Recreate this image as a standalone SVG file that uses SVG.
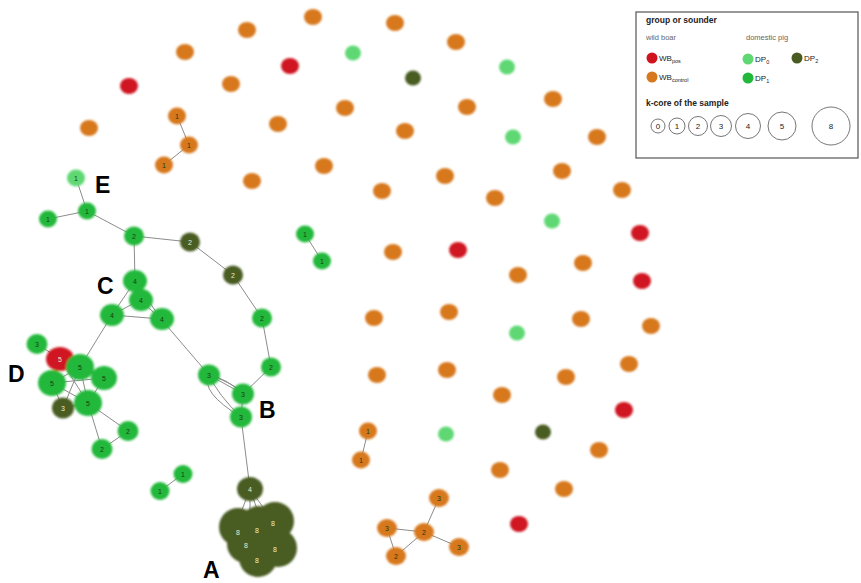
<svg xmlns="http://www.w3.org/2000/svg" width="861" height="583" viewBox="0 0 861 583">
<defs>
<filter id="soft" x="-30%" y="-30%" width="160%" height="160%"><feGaussianBlur stdDeviation="0.9"/></filter>
</defs>
<style>
.o{fill:#d7781f}.r{fill:#cf1420}.lg{fill:#5fd873}.g{fill:#22b83a}.dg{fill:#485c22}
.e{stroke:#8c8c8c;stroke-width:1;fill:none}
.t{font-family:"Liberation Sans",Arial,sans-serif;font-size:7px;text-anchor:middle;fill:#1a3a10}
.tw{font-family:"Liberation Sans",Arial,sans-serif;font-size:7px;text-anchor:middle;fill:#e8efd0}
.big{font-family:"Liberation Sans",Arial,sans-serif;font-size:23px;font-weight:bold;fill:#000}
.lt{font-family:"Liberation Sans",Arial,sans-serif;font-size:8px;fill:#222}
.lb{font-family:"Liberation Sans",Arial,sans-serif;font-size:8.5px;font-weight:bold;fill:#222}
.lgr{font-family:"Liberation Sans",Arial,sans-serif;font-size:7.5px;fill:#666}
.kc{fill:#fff;stroke:#666;stroke-width:0.9}
.kt{font-family:"Liberation Sans",Arial,sans-serif;font-size:8px;text-anchor:middle;fill:#222}
</style>
<rect width="861" height="583" fill="#fff"/>
<g id="connectors">
<path class="e" d="M177,116L189,145L164,165"/>
<path class="e" d="M368,431L361,460"/>
<path class="e" d="M439,498L424,532L387,528L396,556L424,532L459,547"/>
<path class="e" d="M76,178L87,211L48,219M87,211L134,236L190,242L233,275L262,318L271,367L243,394"/>
<path class="e" d="M134,236L135,281L140,300L112,315L161,319L140,300M135,281L112,315M135,281L161,319"/>
<path class="e" d="M112,315L80,367M161,319L209,375L243,394L241,417L250,489"/>
<path class="e" d="M209,375Q226,378 243,394M209,375Q218,395 241,417M209,375Q200,392 241,417M209,375Q236,384 243,394"/>
<path class="e" d="M305,234L322,261M160,491L183,474"/>
<path class="e" d="M37,344L60,359L80,367L104,378L88,403L52,383L60,359M80,367L52,383L63,408L88,403L80,367L63,408M60,359L88,403M52,383L104,378"/>
<path class="e" d="M88,403L128,431L102,449L88,403"/>
<path class="e" d="M250,489L240,515M250,489L250,512M250,489L258,512M250,489L265,510"/>
</g>
<g filter="url(#soft)">
<g id="n_scatter">
<ellipse class="o" cx="313" cy="17" rx="9" ry="8"/>
<ellipse class="o" cx="247" cy="30" rx="9" ry="8"/>
<ellipse class="o" cx="185" cy="52" rx="9" ry="8"/>
<ellipse class="r" cx="290" cy="66" rx="9" ry="8"/>
<ellipse class="r" cx="129" cy="86" rx="9" ry="8"/>
<ellipse class="o" cx="231" cy="84" rx="9" ry="8"/>
<ellipse class="o" cx="278" cy="124" rx="9" ry="8"/>
<ellipse class="o" cx="89" cy="128" rx="9" ry="8"/>
<ellipse class="o" cx="324" cy="166" rx="9" ry="8"/>
<ellipse class="o" cx="252" cy="181" rx="9" ry="8"/>
<ellipse class="o" cx="395" cy="23" rx="9" ry="8"/>
<ellipse class="o" cx="456" cy="42" rx="9" ry="8"/>
<ellipse class="lg" cx="353" cy="53" rx="8" ry="7.5"/>
<ellipse class="lg" cx="507" cy="67" rx="8" ry="7.5"/>
<ellipse class="dg" cx="413" cy="78" rx="8" ry="7.5"/>
<ellipse class="o" cx="345" cy="108" rx="9" ry="8"/>
<ellipse class="o" cx="467" cy="107" rx="9" ry="8"/>
<ellipse class="o" cx="553" cy="99" rx="9" ry="8"/>
<ellipse class="o" cx="405" cy="131" rx="9" ry="8"/>
<ellipse class="lg" cx="513" cy="137" rx="8" ry="7.5"/>
<ellipse class="o" cx="597" cy="137" rx="9" ry="8"/>
<ellipse class="o" cx="445" cy="176" rx="9" ry="8"/>
<ellipse class="o" cx="562" cy="171" rx="9" ry="8"/>
<ellipse class="o" cx="382" cy="191" rx="9" ry="8"/>
<ellipse class="o" cx="495" cy="198" rx="9" ry="8"/>
<ellipse class="o" cx="622" cy="190" rx="9" ry="8"/>
<ellipse class="lg" cx="552" cy="221" rx="8" ry="7.5"/>
<ellipse class="r" cx="640" cy="233" rx="9" ry="8"/>
<ellipse class="o" cx="393" cy="252" rx="9" ry="8"/>
<ellipse class="r" cx="458" cy="250" rx="9" ry="8"/>
<ellipse class="o" cx="583" cy="263" rx="9" ry="8"/>
<ellipse class="o" cx="518" cy="275" rx="9" ry="8"/>
<ellipse class="r" cx="642" cy="281" rx="9" ry="8"/>
<ellipse class="o" cx="374" cy="318" rx="9" ry="8"/>
<ellipse class="o" cx="449" cy="312" rx="9" ry="8"/>
<ellipse class="o" cx="581" cy="319" rx="9" ry="8"/>
<ellipse class="o" cx="651" cy="326" rx="9" ry="8"/>
<ellipse class="lg" cx="517" cy="333" rx="8" ry="7.5"/>
<ellipse class="o" cx="377" cy="375" rx="9" ry="8"/>
<ellipse class="o" cx="447" cy="370" rx="9" ry="8"/>
<ellipse class="o" cx="566" cy="377" rx="9" ry="8"/>
<ellipse class="o" cx="629" cy="364" rx="9" ry="8"/>
<ellipse class="o" cx="502" cy="395" rx="9" ry="8"/>
<ellipse class="r" cx="624" cy="410" rx="9" ry="8"/>
<ellipse class="lg" cx="446" cy="434" rx="8" ry="7.5"/>
<ellipse class="dg" cx="543" cy="432" rx="8" ry="7.5"/>
<ellipse class="o" cx="599" cy="450" rx="9" ry="8"/>
<ellipse class="o" cx="500" cy="470" rx="9" ry="8"/>
<ellipse class="o" cx="564" cy="489" rx="9" ry="8"/>
<ellipse class="r" cx="519" cy="524" rx="9" ry="8"/>
</g>
<g id="n_orange_chain">
<ellipse class="o" cx="177" cy="116" rx="9" ry="8.5"/>
<ellipse class="o" cx="189" cy="145" rx="9" ry="8.5"/>
<ellipse class="o" cx="164" cy="165" rx="9" ry="8.5"/>
<ellipse class="o" cx="368" cy="431" rx="9" ry="8.5"/>
<ellipse class="o" cx="361" cy="460" rx="9" ry="8.5"/>
</g>
<g id="n_orange_cluster">
<ellipse class="o" cx="439" cy="498" rx="10" ry="9"/>
<ellipse class="o" cx="424" cy="532" rx="10" ry="9"/>
<ellipse class="o" cx="387" cy="528" rx="10" ry="9"/>
<ellipse class="o" cx="396" cy="556" rx="10" ry="9"/>
<ellipse class="o" cx="459" cy="547" rx="10" ry="9"/>
</g>
<g id="n_E">
<ellipse class="lg" cx="76" cy="178" rx="9" ry="8.5"/>
<ellipse class="g" cx="87" cy="211" rx="9" ry="8.5"/>
<ellipse class="g" cx="48" cy="219" rx="9" ry="8.5"/>
<ellipse class="g" cx="134" cy="236" rx="10" ry="9.5"/>
</g>
<g id="n_path">
<ellipse class="dg" cx="190" cy="242" rx="10" ry="9.5"/>
<ellipse class="dg" cx="233" cy="275" rx="10" ry="9.5"/>
<ellipse class="g" cx="262" cy="318" rx="10" ry="9.5"/>
<ellipse class="g" cx="271" cy="367" rx="10" ry="9.5"/>
</g>
<g id="n_C">
<ellipse class="g" cx="135" cy="281" rx="12" ry="11"/>
<ellipse class="g" cx="141" cy="300" rx="12" ry="11"/>
<ellipse class="g" cx="112" cy="315" rx="12" ry="11"/>
<ellipse class="g" cx="162" cy="319" rx="12" ry="11"/>
</g>
<g id="n_B">
<ellipse class="g" cx="209" cy="375" rx="11" ry="10.5"/>
<ellipse class="g" cx="243" cy="394" rx="11" ry="10.5"/>
<ellipse class="g" cx="241" cy="417" rx="11" ry="10.5"/>
</g>
<g id="n_D">
<ellipse class="g" cx="37" cy="344" rx="10.5" ry="10"/>
<ellipse class="r" cx="60" cy="359" rx="14" ry="12"/>
<ellipse class="g" cx="104" cy="378" rx="13" ry="12"/>
<ellipse class="g" cx="52" cy="383" rx="14" ry="13"/>
<ellipse class="dg" cx="63" cy="408" rx="11" ry="10.5"/>
<ellipse class="g" cx="88" cy="403" rx="14" ry="13"/>
<ellipse class="g" cx="80" cy="367" rx="14" ry="13"/>
<ellipse class="g" cx="128" cy="431" rx="10.5" ry="10"/>
<ellipse class="g" cx="102" cy="449" rx="10.5" ry="10"/>
</g>
<g id="n_pairs">
<ellipse class="g" cx="305" cy="234" rx="9" ry="8.5"/>
<ellipse class="g" cx="322" cy="261" rx="9" ry="8.5"/>
<ellipse class="g" cx="160" cy="491" rx="9.5" ry="9"/>
<ellipse class="g" cx="183" cy="474" rx="9.5" ry="9"/>
</g>
<g id="n_A">
<ellipse class="dg" cx="250" cy="489" rx="13" ry="12"/>
<circle class="dg" cx="238" cy="527" r="19"/>
<circle class="dg" cx="259" cy="525" r="19"/>
<circle class="dg" cx="275" cy="521" r="19"/>
<circle class="dg" cx="246" cy="544" r="19"/>
<circle class="dg" cx="278" cy="548" r="19"/>
<circle class="dg" cx="258" cy="558" r="19"/>
</g>
</g>
<g id="node_labels">
<text class="t" x="177" y="118.5">1</text><text class="t" x="189" y="147.5">1</text><text class="t" x="164" y="167.5">1</text>
<text class="t" x="368" y="433.5">1</text><text class="t" x="361" y="462.5">1</text>
<text class="t" x="439" y="500.5">3</text><text class="t" x="424" y="534.5">2</text><text class="t" x="387" y="530.5">3</text><text class="t" x="396" y="558.5">2</text><text class="t" x="459" y="549.5">3</text>
<text class="t" x="76" y="180.5">1</text><text class="t" x="87" y="213.5">1</text><text class="t" x="48" y="221.5">1</text><text class="t" x="134" y="238.5">2</text>
<text class="tw" x="190" y="244.5">2</text><text class="tw" x="233" y="277.5">2</text><text class="t" x="262" y="320.5">2</text><text class="t" x="271" y="369.5">2</text>
<text class="t" x="135" y="283.5">4</text><text class="t" x="141" y="302.5">4</text><text class="t" x="112" y="317.5">4</text><text class="t" x="162" y="321.5">4</text>
<text class="t" x="209" y="377.5">3</text><text class="t" x="243" y="396.5">3</text><text class="t" x="241" y="419.5">3</text>
<text class="t" x="37" y="346.5">3</text><text class="tw" x="60" y="361.5">5</text><text class="t" x="104" y="380.5">5</text><text class="t" x="52" y="385.5">5</text><text class="tw" x="63" y="410.5">3</text><text class="t" x="88" y="405.5">5</text><text class="t" x="80" y="369.5">5</text><text class="t" x="128" y="433.5">2</text><text class="t" x="102" y="451.5">2</text>
<text class="t" x="305" y="236.5">1</text><text class="t" x="322" y="263.5">1</text><text class="t" x="160" y="493.5">1</text><text class="t" x="183" y="476.5">1</text>
<text class="tw" x="250" y="491.5">4</text>
<text class="tw" x="238" y="534.5">8</text><text class="tw" x="257" y="532.5">8</text><text class="tw" x="273" y="525.5">8</text><text class="tw" x="246" y="547.5">8</text><text class="tw" x="275" y="551.5">8</text><text class="tw" x="257" y="562.5">8</text>
</g>
<g id="letters">
<text class="big" x="95" y="193">E</text>
<text class="big" x="97" y="294">C</text>
<text class="big" x="8" y="382">D</text>
<text class="big" x="259" y="418">B</text>
<text class="big" x="203" y="578" font-size="22">A</text>
</g>
<g id="legend">
<rect x="636" y="12" width="222" height="146" fill="#fff" stroke="#555" stroke-width="1.2"/>
<text class="lb" x="646" y="23">group  or  sounder</text>
<text class="lgr" x="646" y="40">wild boar</text>
<text class="lgr" x="746" y="40">domestic pig</text>
<circle class="r" cx="652" cy="58" r="5.5"/>
<text class="lt" x="659" y="61">WB<tspan font-size="5.5" dy="2">pos</tspan></text>
<circle class="o" cx="652" cy="77" r="5.5"/>
<text class="lt" x="659" y="80">WB<tspan font-size="5.5" dy="2">control</tspan></text>
<circle class="lg" cx="748" cy="59" r="5.5"/>
<text class="lt" x="755" y="62">DP<tspan font-size="5.5" dy="2">0</tspan></text>
<circle class="dg" cx="797" cy="58" r="5.5"/>
<text class="lt" x="804" y="61">DP<tspan font-size="5.5" dy="2">2</tspan></text>
<circle class="g" cx="748" cy="78" r="5.5"/>
<text class="lt" x="755" y="81">DP<tspan font-size="5.5" dy="2">1</tspan></text>
<text class="lb" x="646" y="106">k-core of the sample</text>
<circle class="kc" cx="658" cy="126" r="7"/><text class="kt" x="658" y="129">0</text>
<circle class="kc" cx="677" cy="126" r="8"/><text class="kt" x="677" y="129">1</text>
<circle class="kc" cx="698" cy="126" r="9.5"/><text class="kt" x="698" y="129">2</text>
<circle class="kc" cx="721" cy="126" r="10.5"/><text class="kt" x="721" y="129">3</text>
<circle class="kc" cx="748" cy="126" r="12.5"/><text class="kt" x="748" y="129">4</text>
<circle class="kc" cx="782" cy="126" r="14"/><text class="kt" x="782" y="129">5</text>
<circle class="kc" cx="831" cy="126" r="19"/><text class="kt" x="831" y="129">8</text>
</g>
</svg>
